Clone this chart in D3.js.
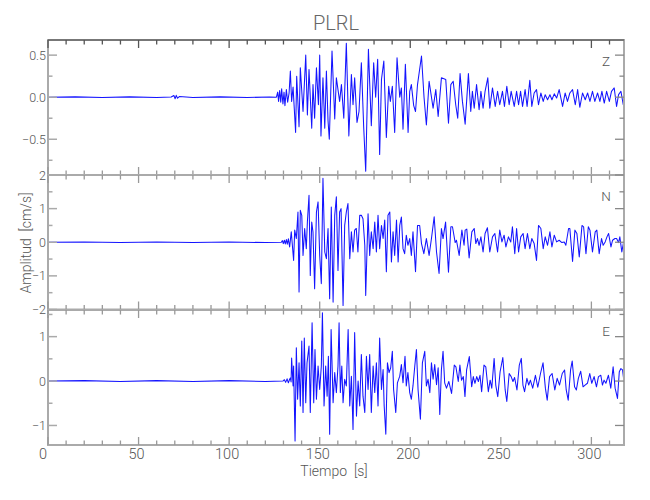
<!DOCTYPE html>
<html><head><meta charset="utf-8">
<script src="https://cdn.jsdelivr.net/npm/d3@7"></script>
<style>body{margin:0;background:#fff}svg{display:block}</style>
</head><body>
<script>
// ---- data ----
const title = "PLRL";
const components = ["Z", "N", "E"];
const xTicksMajor = [0, 50, 100, 150, 200, 250, 300];
const xTicksMinor = [10,20,30,40,60,70,80,90,110,120,130,140,160,170,180,190,210,220,230,240,260,270,280,290,310];
const zTicksMajor = [-0.5, 0, 0.5];
const zTicksMinor = [-0.75, -0.25, 0.25];
const nTicksMajor = [-2, -1, 0, 1, 2];
const nTicksMinor = [-1.5, -0.5, 0.5, 1.5];
const eTicksMajor = [-1, 0, 1];
const eTicksMinor = [-0.5, 0.5, 1.5];

const zTime = [0,15,30,45,60,68,69.5,70.2,70.8,71.5,72.5,80,95,110,122.4,126.1,126.8,127.3,127.9,128.5,129.0,129.7,130.3,130.8,131.6,132.3,133.1,133.8,134.5,135.3,136.7,137.3,138.6,139.3,140.8,142.3,143.2,144.1,145.6,146.3,147.2,148.2,149.3,150.0,150.7,151.8,152.8,153.7,154.6,155.3,156.8,158.3,159.2,161.0,162.0,163.3,164.7,166.1,167.5,168.4,169.3,170.6,171.7,173.0,174.3,175.4,176.9,178.5,179.8,180.9,182.0,183.1,184.1,185.4,186.8,188.1,189.0,190.1,191.4,192.7,194.2,195.1,196.0,197.3,198.8,199.7,200.6,201.9,202.9,204.0,206.2,207.6,208.9,210.4,212.6,214.1,215.4,217.2,219.6,221.1,222.4,223.7,225.1,226.2,227.5,228.8,230.3,232.1,233.4,234.3,235.3,236.6,238.0,239.0,240.2,241.3,242.8,243.9,245.4,246.9,248.2,249.4,250.9,252.0,253.3,254.6,255.7,257.4,258.7,259.8,260.9,262.0,263.4,264.5,266.0,267.1,268.4,269.7,270.8,272.1,273.4,274.5,275.8,277.1,278.2,279.5,280.8,282.2,284.1,285.5,286.8,288.1,289.6,291.1,292.4,293.6,295.1,296.6,297.9,299.2,300.6,301.9,303.4,304.7,305.8,307.1,308.4,309.9,311.1,312.6,313.9,315.0,316.3,317.6,318.5];
const zAmp = [0,0.004,-0.004,0.004,-0.003,0.002,0.02,-0.018,0.022,-0.012,0.008,-0.003,0.004,-0.004,0.003,0,0.06,-0.05,0.08,-0.06,0.1,-0.08,0.06,-0.1,0.09,-0.06,0.05,0.31,-0.05,0.12,-0.42,0.25,-0.35,0.35,-0.17,0.5,-0.21,0.33,-0.37,0.15,-0.25,0.35,-0.09,0.5,-0.46,0.23,-0.37,0.31,-0.28,-0.5,0.55,-0.26,0.23,-0.05,0.15,-0.25,0.64,-0.46,0.27,-0.09,0.23,-0.3,-0.17,0.41,-0.36,-0.88,0.57,-0.34,0.41,0.0,0.45,-0.68,0.21,0.43,-0.48,0.13,-0.05,0.13,-0.42,0.47,0.0,0.11,-0.38,0.39,-0.42,0.07,0.15,-0.1,-0.17,0.15,0.49,0.0,-0.33,0.19,-0.13,0.09,-0.23,0.23,0.21,-0.31,0.15,0.19,-0.09,-0.25,0.28,-0.05,-0.32,0.28,-0.17,0.07,-0.13,0.15,-0.15,0.07,-0.13,0.07,0.23,-0.13,0.11,-0.11,0.07,-0.09,0.07,-0.11,0.13,-0.09,0.07,-0.11,0.07,-0.09,0.07,-0.11,0.09,-0.11,0.2,-0.11,0.05,0.09,-0.09,0.05,-0.05,0.03,-0.03,0.03,-0.03,0.04,-0.01,0.09,-0.11,0.05,-0.05,0.05,0.09,-0.09,0.09,-0.12,0.05,-0.03,0.05,-0.05,0.07,-0.05,0.05,-0.05,0.07,-0.07,0.07,-0.05,0.07,0.11,-0.11,0.03,0.07,-0.09,-0.01];

const nTime = [0,20,40,60,80,100,120,128.8,129.4,129.9,130.5,131.0,131.6,132.1,132.7,133.4,134.3,135.6,136.2,137.1,138.0,138.6,139.3,140.1,140.8,141.7,142.6,143.2,144.1,144.8,145.6,146.3,147.2,148.2,149.1,150.0,150.9,151.8,152.8,153.7,154.6,155.5,156.4,157.4,158.3,159.2,160.1,161.0,161.8,162.9,163.8,164.7,165.6,166.6,167.5,168.4,169.3,170.2,171.1,172.1,173.0,173.9,174.9,175.4,176.7,177.6,178.5,179.5,180.4,181.3,182.2,183.1,184.1,185.0,185.9,186.8,187.7,188.7,189.6,190.5,191.4,192.4,193.3,194.2,195.1,196.0,196.9,197.8,198.7,199.7,200.6,201.5,202.9,204.0,205.2,206.2,207.5,208.9,210.4,211.7,213.2,214.5,215.9,217.2,218.1,219.5,221.1,222.4,223.3,224.8,225.5,227.0,228.5,229.7,230.3,231.2,232.5,234.0,235.3,236.2,237.1,238.0,239.0,240.2,241.3,242.6,243.9,245.4,246.7,248.2,249.4,250.6,251.8,252.8,254.2,255.5,256.4,257.7,258.7,259.8,261.0,262.3,263.4,264.7,266.0,267.1,268.4,269.7,270.8,272.1,273.4,274.5,275.8,277.1,278.2,279.5,280.8,282.2,283.7,285.0,285.9,287.4,288.1,289.6,290.9,292.0,293.3,294.8,295.7,297.0,298.3,299.2,300.6,302.1,303.0,304.3,305.6,306.5,307.6,308.6,309.5,310.8,311.7,313.0,313.9,315.0,315.7,316.8,318.1];
const nAmp = [0,0.01,-0.01,0.01,-0.01,0.01,-0.01,0,0.05,-0.04,0.06,-0.05,0.08,-0.06,0.1,-0.14,0.31,-0.54,0.36,0.11,0.9,-1.48,0.95,0.8,-0.39,0.41,-0.19,0.6,1.4,-0.99,0.6,0.3,-1.38,0.9,1.2,-0.39,-1.23,1.9,-0.29,-0.49,0.41,-1.68,1.05,-1.78,0.8,1.35,-0.84,0.9,1.0,-1.88,0.5,0.9,1.15,-0.49,0.31,-0.29,0.36,0.41,-0.29,0.8,0.8,0.7,-0.09,-1.58,0.85,-0.39,0.31,-0.19,0.6,-0.29,0.8,-0.19,0.5,0.11,0.66,-0.88,0.8,0.9,-0.59,0.31,-0.39,0.66,-0.59,0.5,0.75,-0.19,-0.34,0.21,-0.09,0.11,-0.39,0.31,-0.88,0.5,0.5,-0.04,-0.34,0.11,-0.39,0.11,0.76,-0.29,-0.93,0.41,0.11,0.6,-0.89,0.46,0.46,-0.01,0.06,-0.39,0.36,-0.09,0.36,0.39,-0.47,0.31,0.41,-0.04,0.11,-0.09,0.16,-0.29,0.26,0.43,-0.29,0.16,0.26,-0.29,0.36,0.01,0.21,-0.14,0.16,0.01,0.46,-0.34,0.41,-0.29,0.16,0.26,-0.19,0.26,-0.19,0.11,-0.04,-0.54,0.5,0.41,-0.19,0.16,-0.09,0.31,-0.14,0.21,0.01,0.06,-0.01,0.01,-0.09,0.41,0.41,-0.57,0.36,0.26,-0.44,0.5,0.46,-0.34,0.46,0.36,-0.29,0.31,0.36,-0.34,0.11,-0.09,0.01,0.16,0.26,-0.14,0.06,0.11,0.11,-0.01,0.16,-0.29,0.11];

const eTime = [0,20,40,60,80,100,120,129.7,130.5,131.2,132.0,132.7,133.4,133.8,134.2,134.5,135.3,135.6,136.4,137.1,137.8,138.6,139.3,140.1,140.8,141.5,142.3,143.0,144.1,144.8,145.8,146.7,147.4,148.2,149.1,150.0,150.9,151.5,152.4,153.3,154.1,154.8,155.5,156.3,157.4,158.3,159.2,160.1,160.7,161.4,162.2,162.9,163.8,164.7,165.7,166.6,167.5,168.4,169.3,170.3,171.2,172.1,173.0,173.9,174.9,175.8,176.7,177.6,178.5,179.5,180.4,181.3,182.2,183.1,184.1,185.0,185.6,186.5,187.4,188.3,189.2,190.1,190.8,192.0,192.9,194.2,195.1,196.0,197.1,197.8,198.7,199.7,200.6,201.5,202.5,203.4,204.3,205.6,206.7,208.0,208.9,209.8,210.8,211.7,212.6,213.5,214.5,215.4,216.3,217.2,218.1,219.0,220.0,221.3,222.8,224.3,225.2,226.5,227.4,228.3,229.3,230.2,231.1,232.6,233.9,234.8,235.7,236.7,237.6,238.5,239.4,240.7,241.7,243.1,244.1,245.0,246.3,247.2,248.3,249.6,251.1,252.4,253.3,254.6,255.7,256.7,257.6,258.9,260.2,261.3,262.2,263.1,264.4,265.4,266.3,267.6,269.1,270.4,271.9,273.3,274.6,275.6,276.9,278.3,279.8,281.1,282.4,283.9,285.2,286.1,287.2,288.5,289.4,290.7,291.7,292.8,294.1,295.4,296.5,297.8,299.1,300.2,301.5,302.8,303.9,305.2,306.1,307.0,308.0,309.4,310.7,312.0,313.1,314.4,315.4,316.3,317.2,318.1];
const eAmp = [0,0.01,-0.01,0.01,-0.01,0.01,-0.01,0,0.03,-0.03,0.05,-0.04,0.04,0.07,-0.02,0.52,-0.11,0.34,-1.35,0.75,-0.41,0.41,-0.56,0.9,-0.71,0.97,-0.49,0.41,0.79,-0.71,1.31,-0.49,0.71,-0.41,0.34,-0.19,0.34,1.54,-0.56,0.34,-0.34,0.56,-1.2,1.16,-0.49,0.19,-0.26,0.34,1.31,-0.26,0.34,-0.49,0.04,-0.11,1.16,-0.56,0.11,-1.09,1.09,-0.79,0.0,-0.56,0.6,-0.34,-0.71,0.56,-0.19,0.6,-0.71,0.34,-0.26,0.41,-0.56,0.97,-0.19,0.26,-0.56,-1.2,0.41,0.19,0.3,0.67,-0.19,-0.71,-0.04,0.11,0.37,-0.04,0.56,-0.11,0.19,-0.26,-0.41,-0.11,0.34,0.71,-0.19,-0.86,0.41,0.67,-0.11,0.04,-0.26,0.41,0.04,0.37,-0.08,0.3,-0.75,0.26,0.67,-0.04,-0.16,-0.01,-0.28,0.36,0.32,-0.01,0.36,0.02,0.10,-0.35,0.25,0.55,-0.13,0.10,-0.05,0.10,-0.01,0.13,-0.24,0.36,0.32,-0.24,0.02,-0.16,0.51,-0.09,-0.35,0.21,0.53,-0.2,-0.46,0.17,0.1,-0.01,0.08,-0.2,0.36,0.51,-0.09,-0.24,0.06,-0.09,0.02,-0.16,0.13,-0.14,0.17,0.41,-0.16,-0.43,0.1,0.17,-0.2,0.06,-0.09,0.17,0.25,-0.2,-0.43,0.25,0.45,-0.13,-0.2,0.06,0.22,-0.13,-0.09,-0.05,0.17,-0.05,0.1,-0.13,0.1,0.13,-0.09,0.02,-0.05,0.13,-0.16,0.32,-0.16,-0.39,0.21,0.28,0.25,-0.05];

// ---- chart ----
const W = 650, H = 500;
const left = 48, right = 624;
const svg = d3.select("body").append("svg").attr("width", W).attr("height", H);
const font = "Roboto, 'DejaVu Sans Condensed', 'Liberation Sans', sans-serif";
const fw = 300;
const textCol = "#555";
const axisCol = "#aaa";

const x = d3.scaleLinear().domain([0, 318]).range([left, right]);

const panels = [
  {name: components[0], t: zTime, v: zAmp, top: 40, bottom: 175, dom: [-0.925, 0.68], major: zTicksMajor, minor: zTicksMinor, fmt: d3.format(".1f"), lab: 66},
  {name: components[1], t: nTime, v: nAmp, top: 175, bottom: 309.5, dom: [-2, 2], major: nTicksMajor, minor: nTicksMinor, fmt: d3.format("d"), lab: 201},
  {name: components[2], t: eTime, v: eAmp, top: 310, bottom: 445, dom: [-1.44, 1.6], major: eTicksMajor, minor: eTicksMinor, fmt: d3.format("d"), lab: 336}
];

panels.forEach((p, i) => {
  const y = d3.scaleLinear().domain(p.dom).range([p.bottom, p.top]);
  const g = svg.append("g");
  const cid = "clip" + i;
  svg.append("clipPath").attr("id", cid).append("rect")
    .attr("x", left).attr("y", p.top).attr("width", right - left).attr("height", p.bottom - p.top);

  // trace
  const pts = p.t.map((t, k) => [t, p.v[k]]);
  g.append("path").datum(pts)
    .attr("clip-path", `url(#${cid})`)
    .attr("fill", "none").attr("stroke", "#1414ff").attr("stroke-width", 1.05)
    .attr("stroke-linejoin", "round")
    .attr("d", d3.line().x(d => x(d[0])).y(d => y(d[1])));

  // frame
  g.append("rect").attr("x", left).attr("y", p.top).attr("width", right - left).attr("height", p.bottom - p.top)
    .attr("fill", "none").attr("stroke", axisCol).attr("stroke-width", 2);
  if (i === 0) {
    g.append("line").attr("x1", left).attr("x2", right).attr("y1", p.top).attr("y2", p.top)
      .attr("stroke", "#666").attr("stroke-width", 1.5);
  }

  // x ticks (inward, top and bottom)
  const tickCol = i === 0 ? "#555" : "#999";
  [[xTicksMajor, 8], [xTicksMinor, 4.5]].forEach(([vals, len]) => {
    vals.forEach(v => {
      g.append("line").attr("x1", x(v)).attr("x2", x(v)).attr("y1", p.top).attr("y2", p.top + len)
        .attr("stroke", tickCol).attr("stroke-width", 1.3);
      g.append("line").attr("x1", x(v)).attr("x2", x(v)).attr("y1", p.bottom).attr("y2", p.bottom - len)
        .attr("stroke", "#999").attr("stroke-width", 1.3);
    });
  });
  // y ticks (inward, left and right)
  [[p.major, 9], [p.minor, 4.5]].forEach(([vals, len]) => {
    vals.forEach(v => {
      g.append("line").attr("x1", left).attr("x2", left + len).attr("y1", y(v)).attr("y2", y(v))
        .attr("stroke", axisCol).attr("stroke-width", 1.5);
      g.append("line").attr("x1", right).attr("x2", right - len).attr("y1", y(v)).attr("y2", y(v))
        .attr("stroke", "#888").attr("stroke-width", 1.3);
    });
  });
  // y tick labels
  p.major.forEach(v => {
    g.append("text").attr("x", left - 2).attr("y", y(v) + 4.5)
      .attr("text-anchor", "end").attr("font-family", font).attr("font-weight", fw).attr("font-size", 12.5)
      .attr("fill", textCol).text(p.fmt(v).replace("-", "\u2212"));
  });
  // component label
  g.append("text").attr("x", 606).attr("y", p.lab).attr("text-anchor", "middle")
    .attr("font-family", font).attr("font-weight", fw).attr("font-size", 13.5).attr("fill", textCol).text(p.name);

  // x tick labels on bottom panel
  if (i === panels.length - 1) {
    xTicksMajor.forEach(v => {
      g.append("text").attr("x", x(v) - (v === 0 ? 5 : 2)).attr("y", 459).attr("text-anchor", "middle")
        .attr("font-family", font).attr("font-weight", fw).attr("font-size", 14.5).attr("fill", textCol).text(v);
    });
  }
});

// titles
svg.append("text").attr("x", 336).attr("y", 30).attr("text-anchor", "middle")
  .attr("font-family", font).attr("font-weight", fw).attr("font-size", 20).attr("fill", "#666").text(title);
svg.append("text").attr("x", 334).attr("y", 476).attr("text-anchor", "middle")
  .attr("font-family", font).attr("font-weight", fw).attr("font-size", 14).attr("fill", textCol)
  .attr("xml:space", "preserve").text("Tiempo  [s]");
svg.append("text").attr("transform", "translate(31,243) rotate(-90)").attr("text-anchor", "middle")
  .attr("font-family", font).attr("font-weight", fw).attr("font-size", 14).attr("fill", textCol)
  .attr("xml:space", "preserve").text("Amplitud  [cm/s]");
</script>
</body></html>
